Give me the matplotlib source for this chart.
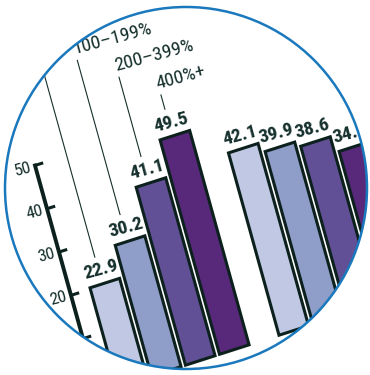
import matplotlib
matplotlib.use("Agg")
import numpy as np
import matplotlib.pyplot as plt
from matplotlib.transforms import Affine2D
from matplotlib.patches import Circle, PathPatch
from matplotlib.path import Path
from matplotlib import font_manager

# data
levels = ["<100%", "100\u2013199%", "200\u2013399%", "400%+"]
group1 = [22.9, 30.2, 41.1, 49.5]
group2 = [42.1, 39.9, 38.6, 34.9]
yticks = [10, 20, 30, 40, 50]

colors = ["#c0c8e4", "#8f9dc9", "#615096", "#58287a"]
edge = "#0c211d"
ink = "#15302c"

names = {f.name for f in font_manager.fontManager.ttflist}
narrow = next((n for n in ["Liberation Sans Narrow", "Roboto Condensed", "Liberation Sans"] if n in names), "DejaVu Sans")

fig = plt.figure(figsize=(3.7, 3.75), dpi=100)
ax = fig.add_axes([0, 0, 1, 1])
ax.set_xlim(0, 370)
ax.set_ylim(0, 375)
ax.set_autoscale_on(False)
ax.axis("off")

# tilted chart plane: (bar position, value) -> pixels
A = (34.0, 10.9)    # one bar step
B = (-1.2, 4.33)    # one value unit
O = (117.5, -12.0)  # origin
T = Affine2D([[A[0], B[0], O[0]], [A[1], B[1], O[1]], [0, 0, 1]]) + ax.transData
T_axis = Affine2D().translate(0, 2.6) + T

width = 0.87
starts = [0.0, 4.75]
txt_rot = 15

for start, vals in zip(starts, [group1, group2]):
    xs = [start + i + width / 2 for i in range(len(vals))]
    ax.bar(xs, vals, width=width, color=colors, edgecolor=edge,
           linewidth=2.2, transform=T)
    for x, v in zip(xs, vals):
        ax.text(x, v + 1.0, f"{v}", transform=T, rotation=txt_rot,
                rotation_mode="anchor", ha="center", va="bottom",
                fontsize=14, fontweight="bold", color=ink, family=narrow)

# legend labels with leader lines over the first group
label_v = [79.9, 73.5, 67.1, 60.5]
for i, (lab, v, lv) in enumerate(zip(levels, group1, label_v)):
    x = i + 0.36
    ax.plot([x, x], [v + 6.2, lv - 1.5], color=ink, lw=0.8, transform=T)
    ax.text(x - 0.04, lv, lab, transform=T, rotation=txt_rot,
            rotation_mode="anchor", ha="left", va="baseline",
            fontsize=14, color=ink, family=narrow)

# value axis
ax_p = -0.57
ax.plot([ax_p, ax_p], [0, yticks[-1]], color=edge, lw=2.8,
        solid_capstyle="projecting", transform=T_axis)
for t in yticks:
    ax.plot([ax_p, ax_p + 0.24], [t, t], color=edge, lw=2.2,
            solid_capstyle="butt", transform=T_axis)
    ax.text(ax_p - 0.12, t, str(t), transform=T_axis, rotation=txt_rot,
            rotation_mode="anchor", ha="right", va="center",
            fontsize=12.5, color=ink, family=narrow)

# white mask outside the round frame, then the frame itself
cx, cy, r = 186, 187, 181
th = np.linspace(0, 2 * np.pi, 361)
ring = np.column_stack([cx + r * np.cos(th), cy - r * np.sin(th)])
outer = np.array([[-10, -10], [380, -10], [380, 385], [-10, 385], [-10, -10]])
verts = np.vstack([outer, ring])
codes = ([Path.MOVETO] + [Path.LINETO] * 3 + [Path.CLOSEPOLY]
         + [Path.MOVETO] + [Path.LINETO] * (len(ring) - 2) + [Path.CLOSEPOLY])
ax.add_patch(PathPatch(Path(verts, codes), facecolor="white", edgecolor="none", zorder=9))
ax.add_patch(Circle((cx, cy), r, facecolor="none", edgecolor="#1a78bd",
                    linewidth=1.8, zorder=10))

fig.savefig("out.png", dpi=100)
